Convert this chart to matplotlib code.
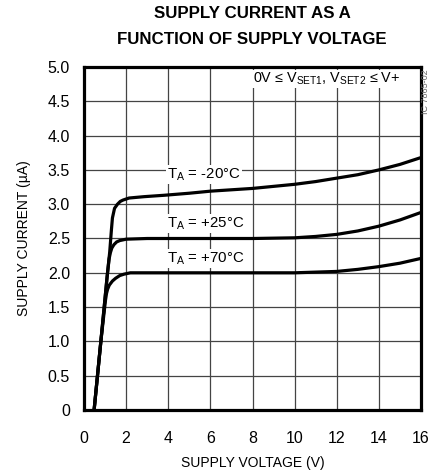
import matplotlib
matplotlib.use("Agg")
import matplotlib.pyplot as plt

# ---- data ----
v_m20 = [0.48, 0.80, 1.10, 1.22, 1.30, 1.35, 1.45, 1.59, 1.72, 1.85, 2.14, 2.86, 3.80, 5.0, 6.0, 7.0, 8.0, 9.0, 10.0, 11.0, 12.0, 13.0, 14.0, 15.0, 16.0]
i_m20 = [0.00, 1.00, 1.95, 2.30, 2.62, 2.80, 2.94, 3.00, 3.04, 3.06, 3.09, 3.11, 3.13, 3.16, 3.19, 3.21, 3.23, 3.26, 3.29, 3.33, 3.38, 3.43, 3.50, 3.58, 3.68]

v_p25 = [0.48, 0.80, 1.10, 1.19, 1.25, 1.32, 1.42, 1.55, 1.70, 2.00, 3.0, 4.0, 6.0, 8.0, 10.0, 11.0, 12.0, 13.0, 14.0, 15.0, 16.0]
i_p25 = [0.00, 1.00, 1.95, 2.20, 2.29, 2.36, 2.41, 2.45, 2.47, 2.49, 2.50, 2.50, 2.50, 2.50, 2.51, 2.53, 2.56, 2.61, 2.68, 2.77, 2.88]

v_p70 = [0.48, 0.80, 1.02, 1.07, 1.12, 1.20, 1.35, 1.50, 1.70, 1.90, 2.20, 4.0, 6.0, 8.0, 10.0, 11.0, 12.0, 13.0, 14.0, 15.0, 16.0]
i_p70 = [0.00, 1.00, 1.60, 1.70, 1.76, 1.82, 1.88, 1.92, 1.96, 1.98, 2.00, 2.00, 2.00, 2.00, 2.00, 2.01, 2.02, 2.05, 2.09, 2.14, 2.21]

curve_labels = ["T$_\\mathregular{A}$ = -20°C", "T$_\\mathregular{A}$ = +25°C", "T$_\\mathregular{A}$ = +70°C"]
label_pos = [(3.95, 3.43), (3.95, 2.72), (3.95, 2.21)]

x_ticks = [0, 2, 4, 6, 8, 10, 12, 14, 16]
y_ticks = [0, 0.5, 1.0, 1.5, 2.0, 2.5, 3.0, 3.5, 4.0, 4.5, 5.0]
y_ticklabels = ["0", "0.5", "1.0", "1.5", "2.0", "2.5", "3.0", "3.5", "4.0", "4.5", "5.0"]

title_lines = ["SUPPLY CURRENT AS A", "FUNCTION OF SUPPLY VOLTAGE"]
xlabel = "SUPPLY VOLTAGE (V)"
ylabel = "SUPPLY CURRENT (µA)"
cond_text = "0V ≤ V$_\\mathregular{SET1}$, V$_\\mathregular{SET2}$ ≤ V+"
corner_text = "IC 7865-02"

main_font = "Liberation Sans"
plt.rcParams["font.family"] = [main_font, "DejaVu Sans"]
plt.rcParams["mathtext.fontset"] = "custom"
plt.rcParams["mathtext.rm"] = main_font

fig = plt.figure(figsize=(4.29, 4.73), dpi=100)
ax = fig.add_axes([84 / 429, 63 / 473, 337 / 429, 343 / 473])

ax.set_xlim(0, 16)
ax.set_ylim(0, 5)
ax.set_xticks(x_ticks)
ax.set_yticks(y_ticks)
ax.set_yticklabels(y_ticklabels)
ax.tick_params(length=0, labelsize=11.5)
ax.tick_params(axis="x", pad=15)
ax.tick_params(axis="y", pad=10)
ax.grid(True, color="#444444", linewidth=0.9)
ax.set_axisbelow(True)
for s in ax.spines.values():
    s.set_linewidth(2.3)
    s.set_color("black")

for v, i in [(v_m20, i_m20), (v_p25, i_p25), (v_p70, i_p70)]:
    ax.plot(v, i, color="black", linewidth=2.3, solid_capstyle="butt", zorder=3)

for lab, (x, y) in zip(curve_labels, label_pos):
    ax.text(x, y, lab, fontsize=10.8, ha="left", va="center", zorder=4,
            bbox=dict(facecolor="white", edgecolor="none", pad=1))

ax.text(11.5, 4.83, cond_text, fontsize=10.4, ha="center", va="center", zorder=4,
        bbox=dict(facecolor="white", edgecolor="none", pad=0.5))

ax.set_xlabel(xlabel, fontsize=10, labelpad=7)
ax.set_ylabel(ylabel, fontsize=10, labelpad=12)

fig.text(252 / 429, 1 - 14 / 473, title_lines[0], ha="center", va="center",
         fontsize=12.2, fontweight="bold")
fig.text(252 / 429, 1 - 39 / 473, title_lines[1], ha="center", va="center",
         fontsize=12.2, fontweight="bold")
fig.text(425 / 429, 1 - 92 / 473, corner_text, rotation=90, ha="center", va="center",
         fontsize=6.5, color="#666666")

fig.savefig("out.png", dpi=100)
